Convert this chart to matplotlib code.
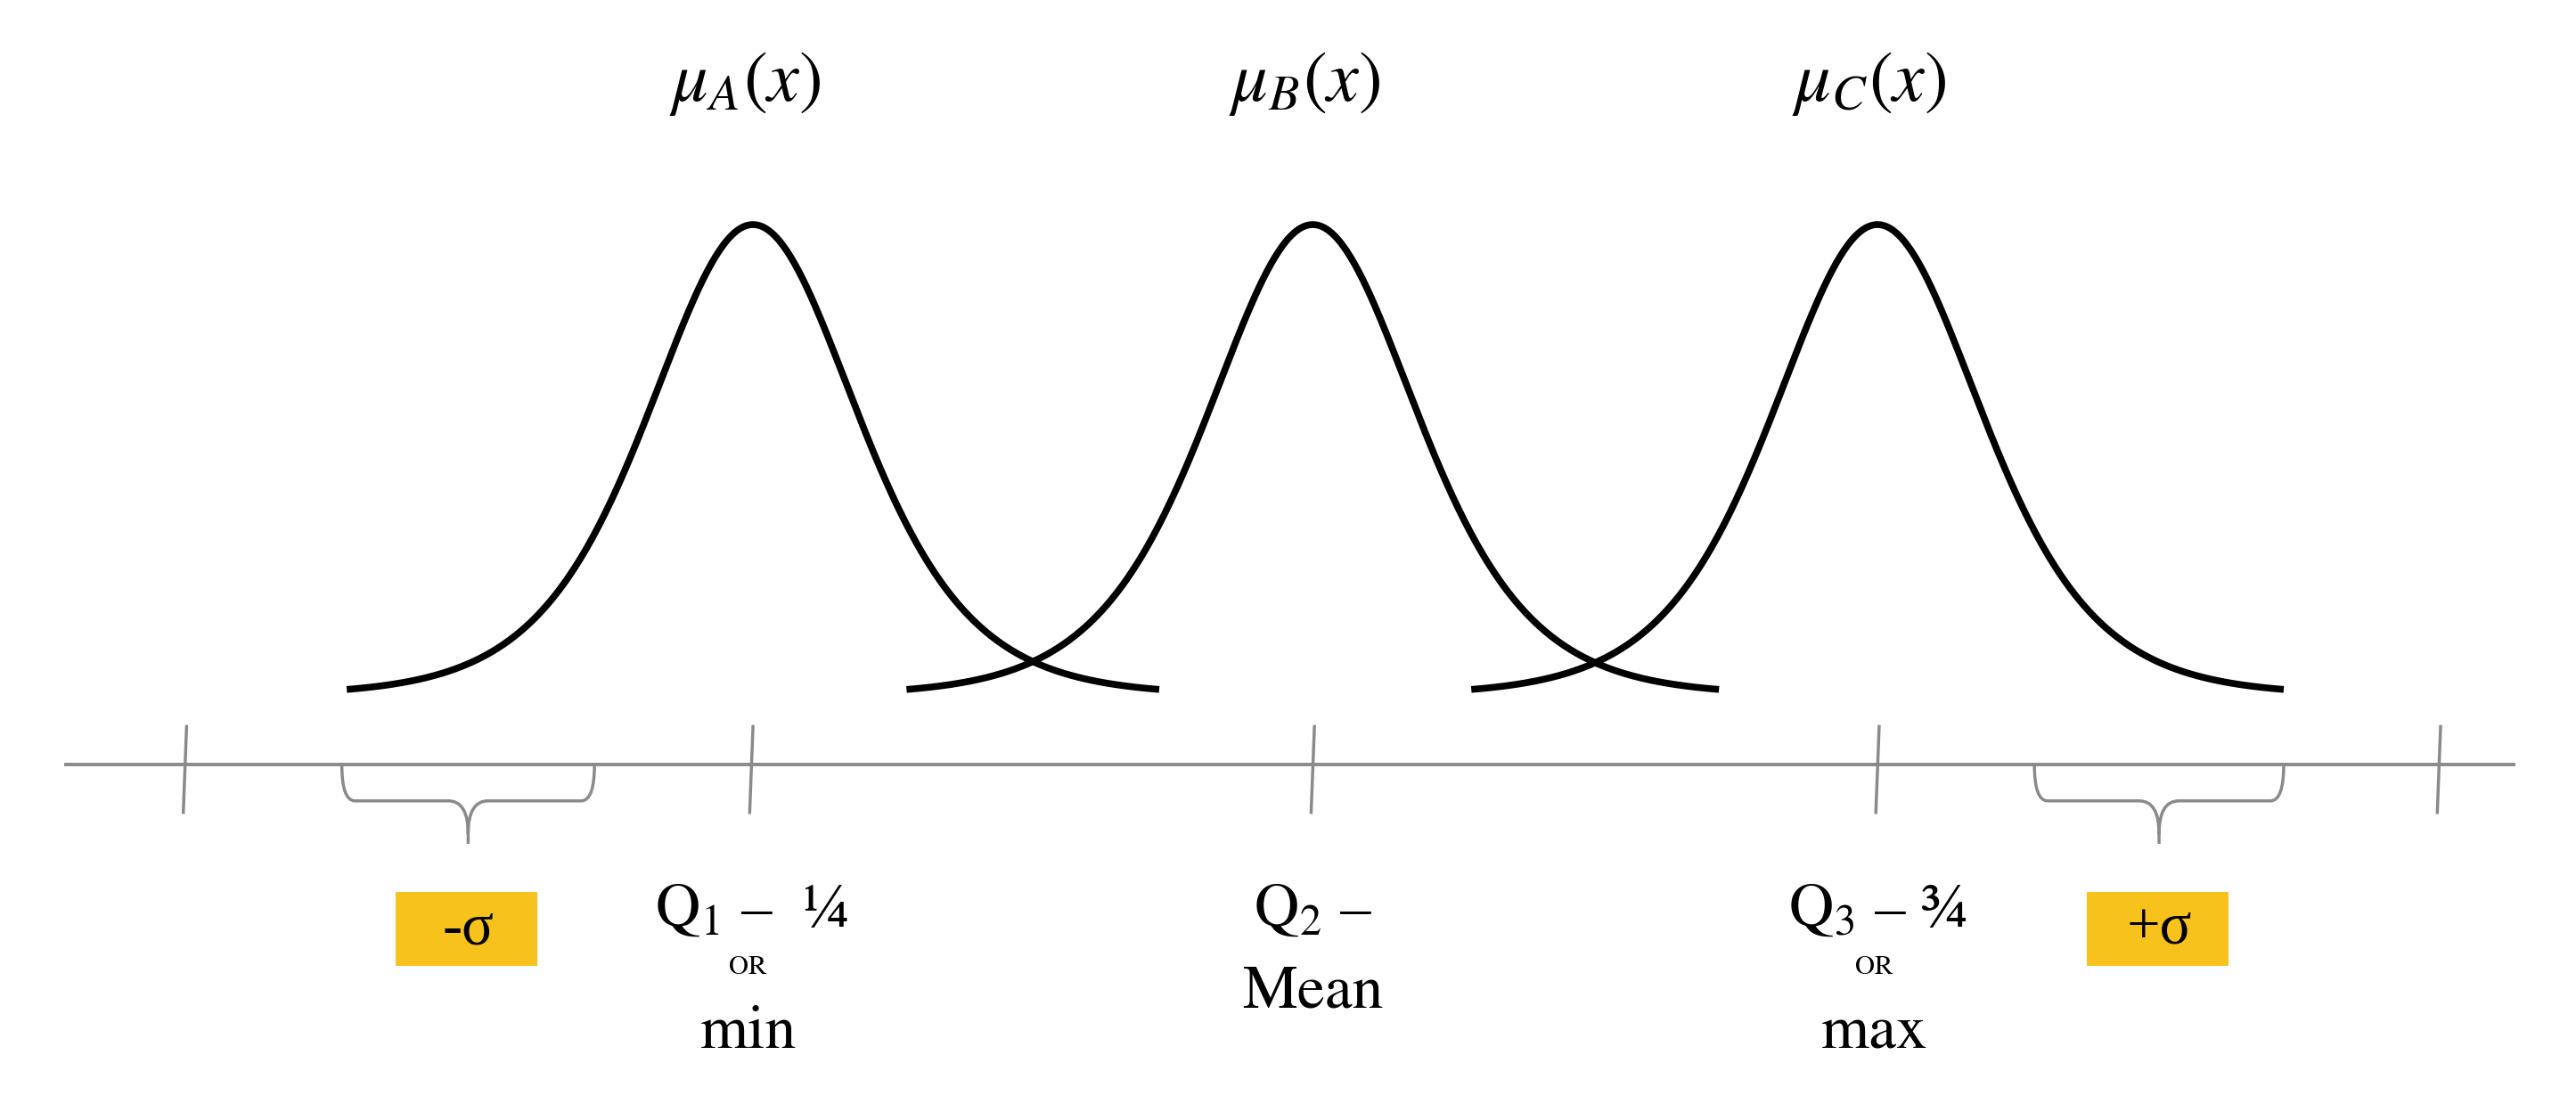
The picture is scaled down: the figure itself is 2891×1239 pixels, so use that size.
import matplotlib
matplotlib.use('Agg')
import matplotlib.pyplot as plt
from matplotlib.path import Path
from matplotlib.patches import PathPatch, Rectangle
import numpy as np

plt.rcParams['mathtext.fontset'] = 'stix'

# data (in picture units, 1560 wide)
centers = [456, 795, 1137]
half_width = 246
width_scale = 85
peak_height = 285
curve_labels = [r'$\mu_A(x)$', r'$\mu_B(x)$', r'$\mu_C(x)$']
tick_pos = [112, 455, 795, 1137, 1477]
brace_spans = [(207, 360), (1232, 1383)]
sigma_labels = ['-σ', '+σ']
q_top = [r'$\mathrm{Q_1}$ –  ¼', r'$\mathrm{Q_2}$ –', r'$\mathrm{Q_3}$ – ¾']
q_bottom = ['min', 'Mean', 'max']
q_or = [True, False, True]

W, H = 1560, 1560 * 1239 / 2891
base_y = 421
axis_y = 463

fig = plt.figure(figsize=(28.91, 12.39), dpi=100)
ax = fig.add_axes([0, 0, 1, 1])
ax.set_xlim(0, W)
ax.set_ylim(H, 0)
ax.axis('off')

for c, lab in zip(centers, curve_labels):
    x = np.linspace(c - half_width, c + half_width, 400)
    y = base_y - peak_height / np.cosh((x - c) / width_scale) ** 2
    ax.plot(x, y, color='black', lw=5.5, solid_capstyle='butt')
    ax.text(c - 5, 50, lab, fontsize=58, ha='center', va='center')

gray = '#8a8a8a'
ax.plot([40, 1522], [axis_y, axis_y], color=gray, lw=2.8)
for t in tick_pos:
    ax.plot([t + 1, t - 1], [440, 492], color=gray, lw=2.5)


def brace(x0, x1, y0):
    tip = (x0 + x1) / 2
    d = 22
    r = 8
    verts = [(x0, y0), (x0, y0 + d), (x0 + r, y0 + d),
             (tip - 12, y0 + d), (tip, y0 + d), (tip, y0 + d + 20),
             (tip, y0 + 48),
             (tip, y0 + d + 20), (tip, y0 + d), (tip + 12, y0 + d),
             (x1 - r, y0 + d), (x1, y0 + d), (x1, y0)]
    codes = [Path.MOVETO, Path.CURVE3, Path.CURVE3,
             Path.LINETO, Path.CURVE3, Path.CURVE3,
             Path.LINETO,
             Path.MOVETO, Path.CURVE3, Path.CURVE3,
             Path.LINETO, Path.CURVE3, Path.CURVE3]
    ax.add_patch(PathPatch(Path(verts, codes), fill=False, edgecolor=gray, lw=2.5))
    return tip


for (a, b), lab in zip(brace_spans, sigma_labels):
    tip = brace(a, b, axis_y)
    ax.add_patch(Rectangle((tip - 44, 540), 86, 45, facecolor='#F7C21B', edgecolor='none'))
    ax.text(tip, 563, lab, fontsize=48, ha='center', va='center', family='Liberation Serif')

for c, top, bot, has_or in zip(tick_pos[1:4], q_top, q_bottom, q_or):
    ax.text(c, 552, top, fontsize=50, ha='center', va='center', family='STIXGeneral')
    if has_or:
        ax.text(c - 2, 586, 'OR', fontsize=22, ha='center', va='center', family='STIXGeneral')
        ax.text(c - 2, 626, bot, fontsize=50, ha='center', va='center', family='STIXGeneral')
    else:
        ax.text(c, 601, bot, fontsize=50, ha='center', va='center', family='STIXGeneral')

fig.savefig('out.png', dpi=100)
